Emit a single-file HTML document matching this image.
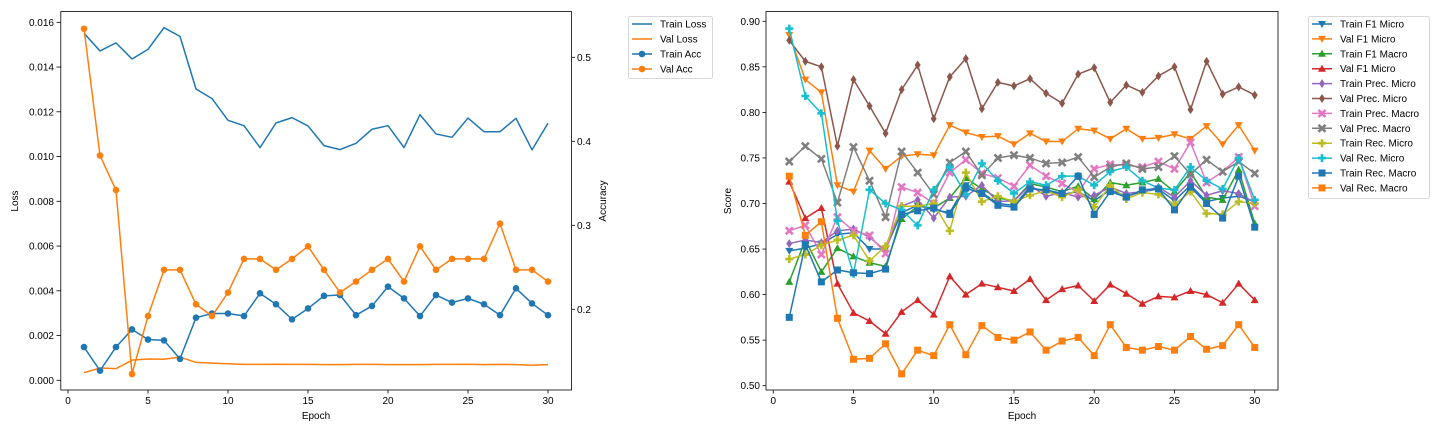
<!DOCTYPE html>
<html><head><meta charset="utf-8"><style>
html,body{margin:0;padding:0;background:#fff;}
svg{display:block;font-family:"Liberation Sans","DejaVu Sans",sans-serif;}
</style></head><body>
<svg id="c" width="1440" height="432" viewBox="0 0 1440 432" xmlns="http://www.w3.org/2000/svg"></svg>
<script>
const epochs = Array.from({length:30},(_,i)=>i+1);
const trainLoss=[0.01551,0.01472,0.01508,0.01436,0.01479,0.01576,0.01537,0.01302,0.01259,0.01162,0.01138,0.0104,0.0115,0.01174,0.01137,0.01049,0.01031,0.01059,0.01122,0.01138,0.0104,0.01187,0.01101,0.01086,0.01172,0.01111,0.01111,0.01171,0.0103,0.01149];
const valLoss=[0.00034,0.00055,0.00052,0.0009,0.00095,0.00094,0.00104,0.0008,0.00077,0.00074,0.00071,0.00071,0.00072,0.00071,0.00071,0.0007,0.0007,0.00071,0.00071,0.0007,0.0007,0.0007,0.00071,0.00071,0.00072,0.0007,0.00071,0.0007,0.00067,0.0007];
const trainAcc=[0.155,0.127,0.155,0.176,0.164,0.163,0.141,0.19,0.195,0.195,0.192,0.219,0.206,0.188,0.201,0.216,0.217,0.193,0.204,0.227,0.213,0.192,0.217,0.208,0.213,0.206,0.193,0.225,0.207,0.193];
const valAcc=[0.534,0.383,0.342,0.123,0.192,0.247,0.247,0.206,0.192,0.22,0.26,0.26,0.247,0.26,0.275,0.247,0.22,0.233,0.247,0.26,0.233,0.275,0.247,0.26,0.26,0.26,0.302,0.247,0.247,0.233];

const trainF1Micro=[0.648,0.651,0.656,0.666,0.668,0.650,0.650,0.690,0.698,0.693,0.690,0.720,0.712,0.700,0.698,0.718,0.713,0.710,0.713,0.703,0.715,0.708,0.713,0.716,0.703,0.720,0.702,0.706,0.708,0.702];
const valF1Micro=[0.885,0.836,0.822,0.720,0.713,0.758,0.738,0.752,0.754,0.753,0.786,0.778,0.773,0.774,0.765,0.777,0.768,0.768,0.782,0.780,0.771,0.782,0.771,0.772,0.776,0.771,0.785,0.765,0.786,0.758];
const trainF1Macro=[0.614,0.660,0.625,0.651,0.642,0.635,0.631,0.683,0.697,0.695,0.706,0.728,0.716,0.706,0.703,0.722,0.718,0.713,0.719,0.705,0.723,0.720,0.723,0.727,0.713,0.734,0.707,0.704,0.737,0.678];
const valF1Macro=[0.724,0.684,0.695,0.612,0.580,0.571,0.557,0.581,0.594,0.578,0.620,0.600,0.612,0.608,0.604,0.617,0.594,0.606,0.610,0.593,0.611,0.601,0.590,0.598,0.597,0.604,0.600,0.591,0.612,0.594];
const trainPrecMicro=[0.656,0.660,0.657,0.670,0.672,0.663,0.648,0.697,0.704,0.684,0.707,0.708,0.720,0.702,0.703,0.720,0.708,0.712,0.707,0.709,0.718,0.711,0.713,0.718,0.707,0.725,0.709,0.714,0.711,0.701];
const valPrecMicro=[0.879,0.856,0.850,0.763,0.836,0.807,0.777,0.825,0.852,0.793,0.839,0.859,0.804,0.833,0.829,0.837,0.821,0.810,0.842,0.849,0.811,0.830,0.822,0.840,0.850,0.803,0.856,0.820,0.828,0.819];
const trainPrecMacro=[0.670,0.676,0.644,0.685,0.670,0.665,0.645,0.718,0.712,0.700,0.734,0.748,0.733,0.728,0.719,0.742,0.730,0.722,0.712,0.738,0.743,0.742,0.740,0.746,0.738,0.767,0.723,0.735,0.751,0.697];
const valPrecMacro=[0.746,0.763,0.749,0.701,0.762,0.725,0.685,0.757,0.734,0.710,0.745,0.757,0.731,0.750,0.753,0.750,0.744,0.745,0.751,0.729,0.740,0.744,0.738,0.740,0.752,0.732,0.748,0.735,0.746,0.733];
const trainRecMicro=[0.639,0.644,0.654,0.660,0.665,0.637,0.653,0.697,0.697,0.700,0.670,0.734,0.702,0.708,0.702,0.709,0.714,0.707,0.715,0.696,0.720,0.705,0.712,0.710,0.699,0.713,0.689,0.688,0.702,0.700];
const valRecMicro=[0.892,0.818,0.799,0.681,0.623,0.715,0.700,0.693,0.676,0.715,0.740,0.710,0.744,0.725,0.711,0.724,0.720,0.730,0.730,0.720,0.735,0.740,0.725,0.717,0.715,0.740,0.725,0.716,0.750,0.704];
const trainRecMacro=[0.575,0.655,0.614,0.627,0.624,0.623,0.628,0.688,0.692,0.695,0.688,0.717,0.711,0.698,0.696,0.716,0.715,0.711,0.730,0.688,0.713,0.707,0.715,0.716,0.693,0.718,0.700,0.684,0.730,0.674];
const valRecMacro=[0.730,0.665,0.680,0.574,0.529,0.530,0.546,0.513,0.539,0.533,0.567,0.534,0.566,0.553,0.550,0.559,0.539,0.549,0.553,0.533,0.567,0.542,0.539,0.543,0.539,0.554,0.540,0.544,0.567,0.542];

const xTicks=[0,5,10,15,20,25,30];
const lossTicks=[0,0.002,0.004,0.006,0.008,0.010,0.012,0.014,0.016];
const accTicks=[0.2,0.3,0.4,0.5];
const scoreTicks=[0.50,0.55,0.60,0.65,0.70,0.75,0.80,0.85,0.90];

const NS="http://www.w3.org/2000/svg";
const svg=document.getElementById('c');
function mk(tag,attrs,parent,text){const e=document.createElementNS(NS,tag);for(const k in attrs)e.setAttribute(k,attrs[k]);if(text!==undefined)e.textContent=text;(parent||svg).appendChild(e);return e;}

// axis functions
const lx=v=>60.8+(v+0.45)*16.0;
const ly=v=>380.3-v/0.016*358;
const ay=v=>57.3-(v-0.5)*840;
const rx=v=>766+(v+0.45)*16.05;
const ry=v=>385.7-(v-0.5)/0.4*364.4;

const C={blue:'#1f77b4',orange:'#ff7f0e',green:'#2ca02c',red:'#d62728',purple:'#9467bd',brown:'#8c564b',pink:'#e377c2',gray:'#7f7f7f',olive:'#bcbd22',cyan:'#17becf'};

function marker(g,type,x,y,color,s){
  s=s||4;
  if(type==='o')return mk('circle',{cx:x,cy:y,r:3.3,fill:color},g);
  if(type==='s')return mk('rect',{x:x-3.5,y:y-3.5,width:7,height:7,fill:color},g);
  if(type==='v')return mk('polygon',{points:`${x-4},${y-3} ${x+4},${y-3} ${x},${y+4}`,fill:color},g);
  if(type==='^')return mk('polygon',{points:`${x-4},${y+3} ${x+4},${y+3} ${x},${y-4}`,fill:color},g);
  if(type==='d')return mk('polygon',{points:`${x},${y-4.5} ${x+3},${y} ${x},${y+4.5} ${x-3},${y}`,fill:color},g);
  if(type==='X')return mk('path',{d:`M${x-3.5},${y-3.5}L${x+3.5},${y+3.5}M${x+3.5},${y-3.5}L${x-3.5},${y+3.5}`,stroke:color,'stroke-width':2.6},g);
  if(type==='P')return mk('path',{d:`M${x-4},${y}H${x+4}M${x},${y-4}V${y+4}`,stroke:color,'stroke-width':2.6},g);
}

function series(name,xs,ys,fx,fy,color,mtype){
  const g=mk('g',{});
  
  
  const pts=xs.map((x,i)=>fx(x).toFixed(2)+','+fy(ys[i]).toFixed(2)).join(' ');
  mk('polyline',{points:pts,fill:'none',stroke:color,'stroke-width':1.5,'stroke-linejoin':'round'},g);
  if(mtype)xs.forEach((x,i)=>{const m=marker(g,mtype,fx(x),fy(ys[i]),color);
    
    });
}

function text(x,y,str,anchor,name,extra){
  const t=mk('text',Object.assign({x:x,y:y,'font-size':10,fill:'#000','text-anchor':anchor||'middle'},extra||{}),svg,str);
  
  
  return t;
}

// ===== Left chart =====
xTicks.forEach(t=>{const x=lx(t);mk('line',{x1:x,y1:390,x2:x,y2:393.5,stroke:'#000','stroke-width':0.8});text(x,404,String(t),'middle','x-tick-label');});
lossTicks.forEach(t=>{const y=ly(t);mk('line',{x1:56.5,y1:y,x2:60.8,y2:y,stroke:'#000','stroke-width':0.8});text(54,y+3.5,t.toFixed(3),'end','loss-tick-label');});
accTicks.forEach(t=>{const y=ay(t);mk('line',{x1:571.5,y1:y,x2:575,y2:y,stroke:'#000','stroke-width':0.8});text(577,y+3.5,t.toFixed(1),'start','acc-tick-label');});
text(316,419,'Epoch','middle','x-axis-title-left');
text(18,201,'Loss','middle','loss-axis-title',{transform:'rotate(-90 18 201)'});
text(606,201,'Accuracy','middle','accuracy-axis-title',{transform:'rotate(-90 606 201)'});

series('train-loss-line',epochs,trainLoss,lx,ly,C.blue,null);
series('val-loss-line',epochs,valLoss,lx,ly,C.orange,null);
series('train-acc-line',epochs,trainAcc,lx,ay,C.blue,'o');
series('val-acc-line',epochs,valAcc,lx,ay,C.orange,'o');
mk('rect',{x:60.8,y:11.5,width:510.7,height:378.5,fill:'none',stroke:'#000','stroke-width':0.8});

// left legend
const lg=mk('g',{});


mk('rect',{x:628.5,y:16.5,width:84,height:62,rx:2,fill:'#fff',stroke:'#ccc','stroke-width':0.8},lg);
[['Train Loss',C.blue,null],['Val Loss',C.orange,null],['Train Acc',C.blue,'o'],['Val Acc',C.orange,'o']].forEach((e,i)=>{
  const y=24+i*15;
  const eg=mk('g',{},lg);
  
  
  mk('line',{x1:632,y1:y,x2:652,y2:y,stroke:e[1],'stroke-width':1.5},eg);
  if(e[2])marker(eg,e[2],642,y,e[1]);
  mk('text',{x:660,y:y+3.5,'font-size':10,fill:'#000'},eg,e[0]);
});

// ===== Right chart =====
xTicks.forEach(t=>{const x=rx(t);mk('line',{x1:x,y1:390,x2:x,y2:393.5,stroke:'#000','stroke-width':0.8});text(x,404,String(t),'middle','x-tick-label');});
scoreTicks.forEach(t=>{const y=ry(t);mk('line',{x1:762.5,y1:y,x2:766,y2:y,stroke:'#000','stroke-width':0.8});text(760,y+3.5,t.toFixed(2),'end','score-tick-label');});
text(1022,419,'Epoch','middle','x-axis-title-right');
text(731,201,'Score','middle','score-axis-title',{transform:'rotate(-90 731 201)'});

const rs=[
 ['Train F1 Micro',trainF1Micro,C.blue,'v'],
 ['Val F1 Micro',valF1Micro,C.orange,'v'],
 ['Train F1 Macro',trainF1Macro,C.green,'^'],
 ['Val F1 Micro',valF1Macro,C.red,'^'],
 ['Train Prec. Micro',trainPrecMicro,C.purple,'d'],
 ['Val Prec. Micro',valPrecMicro,C.brown,'d'],
 ['Train Prec. Macro',trainPrecMacro,C.pink,'X'],
 ['Val Prec. Macro',valPrecMacro,C.gray,'X'],
 ['Train Rec. Micro',trainRecMicro,C.olive,'P'],
 ['Val Rec. Micro',valRecMicro,C.cyan,'P'],
 ['Train Rec. Macro',trainRecMacro,C.blue,'s'],
 ['Val Rec. Macro',valRecMacro,C.orange,'s']
];
rs.forEach((s,i)=>series('score-series-'+i,epochs,s[1],rx,ry,s[2],s[3]));
mk('rect',{x:766,y:11.5,width:512,height:378.5,fill:'none',stroke:'#000','stroke-width':0.8});

const rg=mk('g',{});


mk('rect',{x:1308.5,y:16.5,width:121,height:182,rx:2,fill:'#fff',stroke:'#ccc','stroke-width':0.8},rg);
rs.forEach((s,i)=>{
  const y=24+i*14.9;
  const eg=mk('g',{},rg);
  
  
  mk('line',{x1:1312,y1:y,x2:1332,y2:y,stroke:s[2],'stroke-width':1.5},eg);
  marker(eg,s[3],1322,y,s[2]);
  mk('text',{x:1340,y:y+3.5,'font-size':10,fill:'#000'},eg,s[0]);
});
</script>
</body></html>
